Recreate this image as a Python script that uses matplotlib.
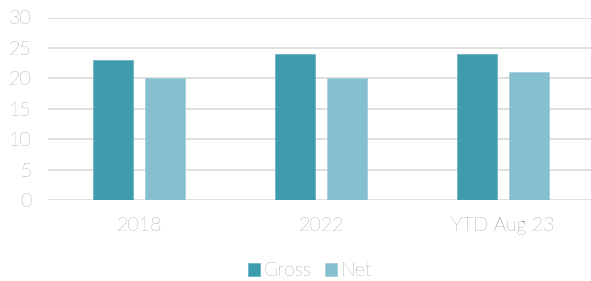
import matplotlib
matplotlib.use("Agg")
import matplotlib.pyplot as plt
import numpy as np

plt.rcParams["font.family"] = ["Lato", "DejaVu Sans"]
plt.rcParams["font.weight"] = "light"

categories = ["2018", "2022", "YTD Aug 23"]
gross = [23, 24, 24]
net = [20, 20, 21]

fig = plt.figure(figsize=(5.91, 2.81), dpi=100)
ax = fig.add_axes([48 / 591, 1 - 200 / 281, 1 - 48 / 591, (200 - 17.5) / 281])

x = np.arange(len(categories))
w = 0.22
ax.bar(x - 0.143, gross, w, color="#3f9bae", edgecolor="#6fb3c2", linewidth=0.6, label="Gross", zorder=3)
ax.bar(x + 0.143, net, w, color="#86c0cf", edgecolor="#a5d0db", linewidth=0.6, label="Net", zorder=3)

ax.set_ylim(0, 30)
ax.set_yticks(range(0, 31, 5))
ax.set_xlim(-0.5, 543 / 182 - 0.5)
ax.set_xticks(x)
ax.set_xticklabels(categories)
ax.yaxis.grid(True, color="#d9d9d9", linewidth=1.2, zorder=0)
for s in ax.spines.values():
    s.set_visible(False)
ax.tick_params(length=0, labelsize=14, colors="#5e5e5e")
ax.tick_params(axis="x", pad=12)
ax.tick_params(axis="y", pad=12)

fig.legend(loc="lower center", bbox_to_anchor=(0.525, -0.06), ncol=2, frameon=False,
           fontsize=14, labelcolor="#5e5e5e", handlelength=0.6, handleheight=0.6,
           handletextpad=0.2, columnspacing=0.7)

fig.savefig("out.png", dpi=100)
